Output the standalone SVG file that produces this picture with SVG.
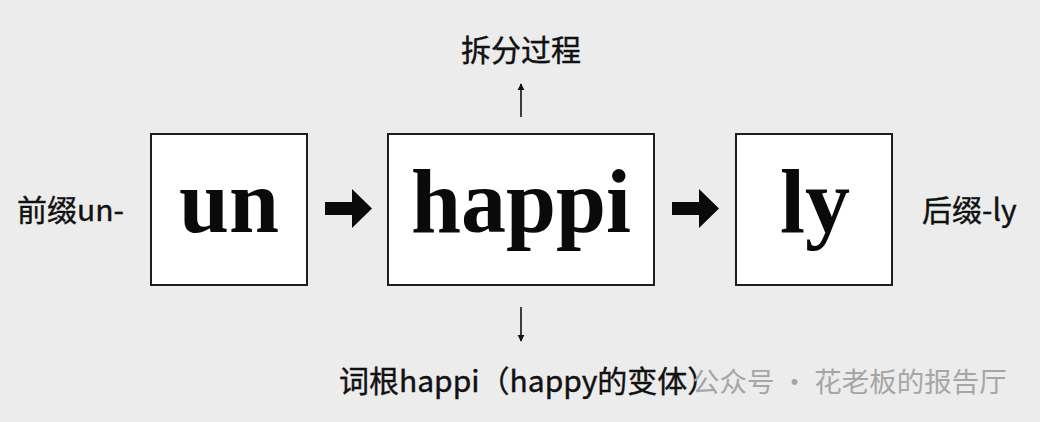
<svg xmlns="http://www.w3.org/2000/svg" width="1040" height="422" viewBox="0 0 1040 422">
<defs>
<style>
.box{fill:#ffffff;stroke:#1e1e1e;stroke-width:2}
.big{font-family:"Liberation Serif","DejaVu Serif",serif;font-weight:bold;font-size:90px;fill:#0a0a0a;text-anchor:middle}
.lab{font-family:"Noto Sans CJK SC","Noto Sans",sans-serif;font-size:30px;fill:#111111;stroke:#111111;stroke-width:0.4}
.wm{font-family:"Noto Sans CJK SC","Noto Sans",sans-serif;font-size:27.5px;fill:#a6a6a6}
.thin{stroke:#111;stroke-width:1.6;fill:none}
</style>
<marker id="ah" viewBox="0 0 10 10" refX="9" refY="5" markerWidth="7" markerHeight="8" markerUnits="userSpaceOnUse" orient="auto">
<path d="M0,0 L10,5 L0,10 Z" fill="#111"/>
</marker>
</defs>
<rect width="1040" height="422" fill="#ececec"/>
<g id="node-un">
<rect class="box" x="151" y="134" width="156" height="151"/>
<text class="big" x="229" y="232">un</text>
</g>
<g id="node-happi">
<rect class="box" x="388" y="134" width="266" height="151"/>
<text class="big" x="521" y="232">happi</text>
</g>
<g id="node-ly">
<rect class="box" x="736" y="134" width="156" height="151"/>
<text class="big" x="815" y="232">ly</text>
</g>
<g id="label-prefix"><text class="lab" x="17" y="221">前缀un-</text></g>
<g id="label-suffix"><text class="lab" x="922" y="221">后缀-ly</text></g>
<g id="label-split"><text class="lab" x="521" y="61" text-anchor="middle" font-size="34">拆分过程</text></g>
<g id="label-root"><text class="lab" x="339" y="392" font-size="28">词根happi（happy的变体）</text></g>
<g id="connectors">
<path d="M325,202 H352 V189 L372,208.5 L352,228 V215 H325 Z" fill="#0a0a0a"/>
<path d="M672,202 H699 V189 L719,208.5 L699,228 V215 H672 Z" fill="#0a0a0a"/>
<line class="thin" x1="521" y1="117" x2="521" y2="84" marker-end="url(#ah)"/>
<line class="thin" x1="521" y1="307" x2="521" y2="341" marker-end="url(#ah)"/>
</g>
<g id="watermark"><text class="wm" x="692" y="392">公众号 · 花老板的报告厅</text></g>
</svg>
